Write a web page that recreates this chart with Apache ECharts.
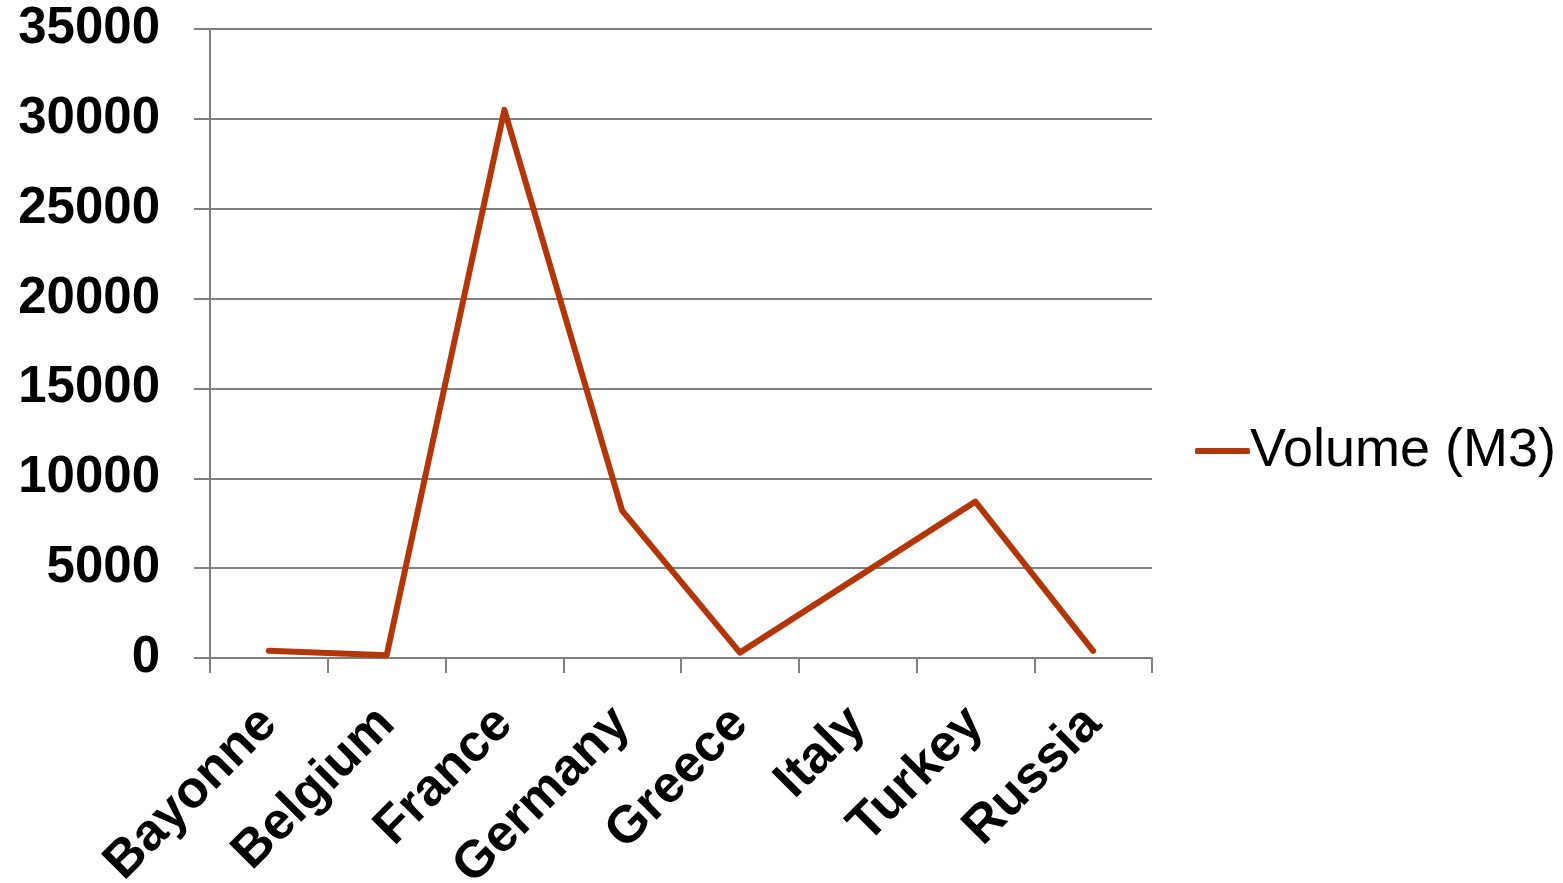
<!DOCTYPE html>
<html lang="en">
<head>
    <meta charset="UTF-8">
    <title>Volume (M3)</title>
    <script src="https://cdn.jsdelivr.net/npm/echarts@6/dist/echarts.min.js"></script>
    <style>
        html, body { margin: 0; padding: 0; background: #fff; }
    </style>
</head>
<body>
    <div id="chart" style="width: 1563px;height:883px;"></div>

    <script>
        // data
        var countries = ['Bayonne', 'Belgium', 'France', 'Germany', 'Greece', 'Italy', 'Turkey', 'Russia']
        var volume = [400, 150, 30500, 8200, 300, 4500, 8700, 400]
        var seriesName = 'Volume (M3)'

        var font = "'Liberation Sans', Arial, sans-serif"
        var grey = '#7f7f7f'

        var mCharts = echarts.init(document.getElementById('chart'))
        var option = {
            animation: false,
            grid: {
                left: 210,
                right: 411,
                top: 29,
                bottom: 225,
                containLabel: false,
                outerBoundsMode: 'none'
            },
            legend: {
                data: [seriesName],
                orient: 'vertical',
                left: 1190,
                top: 419,
                icon: 'roundRect',
                itemWidth: 55,
                itemHeight: 6,
                itemGap: 6,
                textStyle: {
                    fontFamily: font,
                    fontSize: 54,
                    color: '#000',
                    padding: [0, 0, 0, -5]
                }
            },
            xAxis: {
                type: 'category',
                data: countries,
                axisLine: { lineStyle: { color: grey, width: 2 } },
                axisTick: {
                    show: true,
                    interval: 0,
                    length: 15,
                    lineStyle: { color: grey, width: 2 }
                },
                axisLabel: {
                    interval: 0,
                    rotate: 45,
                    margin: 58,
                    color: '#000',
                    fontFamily: font,
                    fontWeight: 'bold',
                    fontSize: 52
                }
            },
            yAxis: {
                type: 'value',
                min: 0,
                max: 35000,
                interval: 5000,
                axisLine: { show: true, lineStyle: { color: grey, width: 2 } },
                axisTick: {
                    show: true,
                    length: 16,
                    lineStyle: { color: grey, width: 2 }
                },
                splitLine: { lineStyle: { color: grey, width: 2 } },
                axisLabel: {
                    margin: 50,
                    color: '#000',
                    fontFamily: font,
                    fontWeight: 'bold',
                    fontSize: 51,
                    formatter: function (v) { return String(v) }
                }
            },
            series: [
                {
                    name: seriesName,
                    type: 'line',
                    data: volume,
                    symbol: 'none',
                    lineStyle: { color: '#b33608', width: 6, cap: 'round', join: 'round' },
                    itemStyle: { color: '#b33608' }
                }
            ]
        }
        mCharts.setOption(option)
    </script>
</body>
</html>
